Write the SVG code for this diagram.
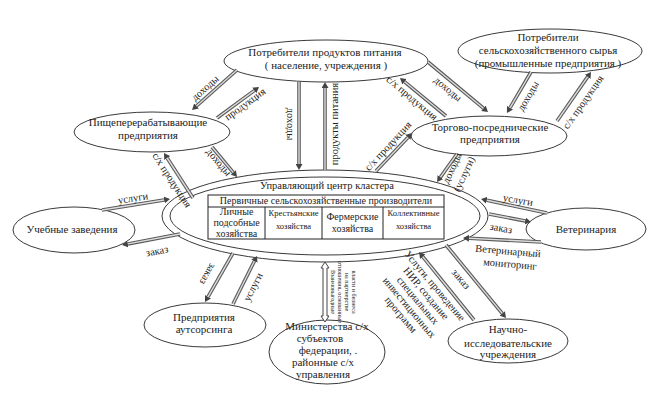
<svg xmlns="http://www.w3.org/2000/svg" width="662" height="399" viewBox="0 0 662 399">
<style>
text{font-family:"Liberation Serif","Times New Roman",serif;fill:#222}
.n ellipse{fill:#fff;stroke:#3a3a3a;stroke-width:1}
.t{font-size:11px;text-anchor:middle}
.c{font-size:10px;text-anchor:middle}
.s{font-size:8.5px;text-anchor:middle}
.l{font-size:10.5px;text-anchor:middle;dominant-baseline:central}
.v{font-size:6px;text-anchor:middle;dominant-baseline:central}
.o{stroke:#5a5a5a;stroke-width:3.6;fill:none;marker-end:url(#ah)}
.i{stroke:#dcdcdc;stroke-width:1.4;fill:none}
.tb{fill:none;stroke:#222;stroke-width:1}
</style>
<defs>
<marker id="ah" markerUnits="userSpaceOnUse" viewBox="0 0 6 7" markerWidth="6" markerHeight="7" refX="0" refY="3.5" orient="auto">
<path d="M0,0 L6,3.5 L0,7 z" fill="#444"/>
</marker>
</defs>
<rect width="662" height="399" fill="#fff"/>

<g id="center" class="n">
<ellipse cx="325" cy="216" rx="163" ry="46"/>
<ellipse cx="325" cy="216" rx="155" ry="39"/>
<text class="l" x="327" y="185">Управляющий центр кластера</text>
<rect class="tb" x="208" y="195" width="236" height="44"/>
<line class="tb" x1="208" y1="207" x2="444" y2="207"/>
<line class="tb" x1="265" y1="207" x2="265" y2="239"/>
<line class="tb" x1="322" y1="207" x2="322" y2="239"/>
<line class="tb" x1="383" y1="207" x2="383" y2="239"/>
<text class="c" x="326" y="204">Первичные сельскохозяйственные производители</text>
<text class="c" x="236.5" y="215">Личные</text>
<text class="c" x="236.5" y="226">подсобные</text>
<text class="c" x="236.5" y="237">хозяйства</text>
<text class="s" x="293.5" y="216">Крестьянские</text>
<text class="s" x="293.5" y="229">хозяйства</text>
<text class="c" x="352.5" y="220">Фермерские</text>
<text class="c" x="352.5" y="232">хозяйства</text>
<text class="s" x="413.5" y="216">Коллективные</text>
<text class="s" x="413.5" y="229">хозяйства</text>
</g>

<g id="food-consumers" class="n">
<ellipse cx="326" cy="61" rx="102" ry="21"/>
<text class="t" x="325" y="56">Потребители продуктов питания</text>
<text class="t" x="326" y="69">( население, учреждения )</text>
</g>

<g id="raw-consumers" class="n">
<ellipse cx="550" cy="51" rx="92" ry="22"/>
<text class="t" x="548" y="41">Потребители</text>
<text class="t" x="548" y="54">сельскохозяйственного сырья</text>
<text class="t" x="548" y="67">(промышленные предприятия )</text>
</g>

<g id="trade" class="n">
<ellipse cx="489" cy="136" rx="78" ry="20"/>
<text class="t" x="490" y="131">Торгово-посреднические</text>
<text class="t" x="490" y="143">предприятия</text>
</g>

<g id="processing" class="n">
<ellipse cx="152" cy="132" rx="78" ry="20"/>
<text class="t" x="148" y="126">Пищеперерабатывающие</text>
<text class="t" x="148" y="139">предприятия</text>
</g>

<g id="education" class="n">
<ellipse cx="74" cy="230" rx="61" ry="23"/>
<text class="t" x="72" y="233">Учебные заведения</text>
</g>

<g id="outsourcing" class="n">
<ellipse cx="205" cy="325" rx="61" ry="22"/>
<text class="t" x="204" y="321">Предприятия</text>
<text class="t" x="204" y="333">аутсорсинга</text>
</g>

<g id="ministry" class="n">
<ellipse cx="327" cy="352" rx="58" ry="32"/>
<text class="t" x="327" y="330">Министерства с/х</text>
<text class="t" x="320" y="342">субъектов</text>
<text class="t" x="328" y="354">федерации, .</text>
<text class="t" x="323" y="366">районные с/х</text>
<text class="t" x="323" y="378">управления</text>
</g>

<g id="research" class="n">
<ellipse cx="508" cy="341" rx="60" ry="22"/>
<text class="t" x="508" y="333">Научно-</text>
<text class="t" x="508" y="347">исследовательские</text>
<text class="t" x="508" y="358">учреждения</text>
</g>

<g id="veterinary" class="n">
<ellipse cx="586" cy="229" rx="60" ry="21"/>
<text class="t" x="586" y="233">Ветеринария</text>
</g>

<g id="connectors">
<line class="o" x1="237" y1="70" x2="196.5" y2="106"/><line class="i" x1="237" y1="70" x2="196.5" y2="106"/>
<line class="o" x1="217" y1="118" x2="254.2" y2="90.6"/><line class="i" x1="217" y1="118" x2="254.2" y2="90.6"/>
<line class="o" x1="212" y1="147" x2="233.2" y2="172.4"/><line class="i" x1="212" y1="147" x2="233.2" y2="172.4"/>
<line class="o" x1="193" y1="198" x2="167.2" y2="158"/><line class="i" x1="193" y1="198" x2="167.2" y2="158"/>
<line class="o" x1="299" y1="82" x2="299" y2="164"/><line class="i" x1="299" y1="82" x2="299" y2="164"/>
<line class="o" x1="325" y1="170" x2="325" y2="88"/><line class="i" x1="325" y1="170" x2="325" y2="88"/>
<line class="o" x1="428" y1="62" x2="483.4" y2="108.2"/><line class="i" x1="428" y1="62" x2="483.4" y2="108.2"/>
<line class="o" x1="446" y1="116" x2="404.6" y2="81.8"/><line class="i" x1="446" y1="116" x2="404.6" y2="81.8"/>
<line class="o" x1="531" y1="72" x2="510" y2="107.8"/><line class="i" x1="531" y1="72" x2="510" y2="107.8"/>
<line class="o" x1="557" y1="121" x2="587.6" y2="76.9"/><line class="i" x1="557" y1="121" x2="587.6" y2="76.9"/>
<line class="o" x1="376" y1="171" x2="407.9" y2="137.4"/><line class="i" x1="376" y1="171" x2="407.9" y2="137.4"/>
<line class="o" x1="457" y1="154" x2="440.5" y2="177.1"/><line class="i" x1="457" y1="154" x2="440.5" y2="177.1"/>
<line class="o" x1="547" y1="213" x2="486.9" y2="200.3"/><line class="i" x1="547" y1="213" x2="486.9" y2="200.3"/>
<line class="o" x1="489" y1="214" x2="525.1" y2="220.9"/><line class="i" x1="489" y1="214" x2="525.1" y2="220.9"/>
<line class="o" x1="541" y1="242" x2="469" y2="238.3"/><line class="i" x1="541" y1="242" x2="469" y2="238.3"/>
<line class="o" x1="474" y1="320" x2="422.8" y2="256.7"/><line class="i" x1="474" y1="320" x2="422.8" y2="256.7"/>
<line class="o" x1="446" y1="245" x2="502.2" y2="313.4"/><line class="i" x1="446" y1="245" x2="502.2" y2="313.4"/>
<line class="o" x1="233" y1="253" x2="208" y2="296.8"/><line class="i" x1="233" y1="253" x2="208" y2="296.8"/>
<line class="o" x1="233" y1="304" x2="254.3" y2="261.3"/><line class="i" x1="233" y1="304" x2="254.3" y2="261.3"/>
<line class="o" x1="102" y1="210" x2="164.1" y2="200"/><line class="i" x1="102" y1="210" x2="164.1" y2="200"/>
<line class="o" x1="180" y1="234" x2="127.9" y2="243.9"/><line class="i" x1="180" y1="234" x2="127.9" y2="243.9"/>
<polygon points="325,262 329,268 327,268 327,316 329,316 325,322 321,316 323,316 323,268 321,268" fill="#fff" stroke="#444" stroke-width="1"/>

<text class="l" transform="translate(205,88) rotate(-42)">доходы</text>
<text class="l" transform="translate(245,104) rotate(-36)">продукция</text>
<text class="l" transform="translate(219,162) rotate(50)">доходы</text>
<text class="l" transform="translate(172,180) rotate(57)">с/х продукция</text>
<text class="l" transform="translate(290,124) rotate(90)">доходы</text>
<text class="l" transform="translate(334,124) rotate(-90)">продукты питания</text>
<text class="l" transform="translate(448,89) rotate(40)">доходы</text>
<text class="l" transform="translate(412,98) rotate(40)">с/х продукция</text>
<text class="l" transform="translate(528,96) rotate(-60)">доходы</text>
<text class="l" transform="translate(583,102) rotate(-55)">с/х продукция</text>
<text class="l" transform="translate(388,146) rotate(-47)">с/х продукция</text>
<text class="l" transform="translate(452,168) rotate(-65)">доходы</text>
<text class="l" transform="translate(464,174) rotate(-65)">(услуги)</text>
<text class="l" transform="translate(518,200) rotate(10)">услуги</text>
<text class="l" transform="translate(501,228) rotate(10)">заказ</text>
<text class="l" transform="translate(508,251) rotate(5)">Ветеринарный</text>
<text class="l" transform="translate(510,264) rotate(5)">мониторинг</text>
<text class="l" transform="translate(435,286) rotate(50)">Услуги, проведение<tspan x="0" dy="11">НИР, создание</tspan><tspan x="0" dy="11">специальных</tspan><tspan x="0" dy="11">инвестиционных</tspan><tspan x="0" dy="11">программ</tspan></text>
<text class="l" transform="translate(461,279) rotate(50)">заказ</text>
<text class="l" transform="translate(208,274) rotate(120)">заказ</text>
<text class="l" transform="translate(253,287) rotate(-63)">услуги</text>
<text class="l" transform="translate(133,198) rotate(-9)">услуги</text>
<text class="l" transform="translate(157,251) rotate(-11)">заказ</text>
<text class="v" transform="translate(333,292) rotate(90)">Взаимовыгодные</text>
<text class="v" transform="translate(340,292) rotate(90)">отношения, основанные</text>
<text class="v" transform="translate(347,292) rotate(90)">на партнерстве</text>
<text class="v" transform="translate(354,292) rotate(90)">власти и бизнеса</text>
</g>
</svg>
